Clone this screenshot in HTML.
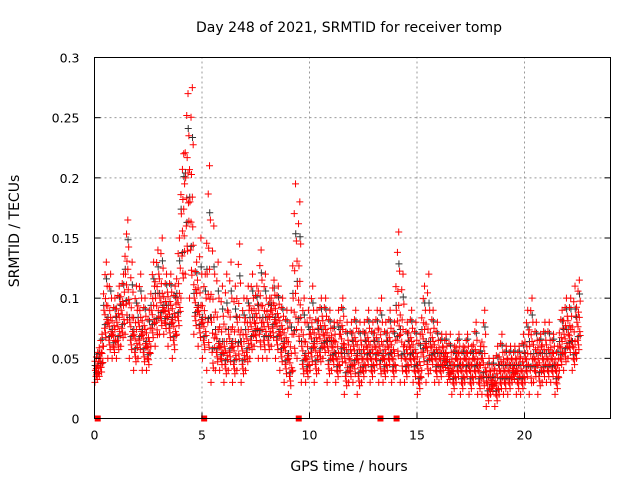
<!DOCTYPE html>
<html><head><meta charset="utf-8"><style>
body{margin:0;background:#fff;}
svg text{font-family:"DejaVu Sans",sans-serif;font-size:14px;fill:#000;}
svg text.tick{font-size:12.5px;}
</style></head><body>
<svg id="chart" width="640" height="480" xmlns="http://www.w3.org/2000/svg">
<rect width="640" height="480" fill="#fff"/>
<g id="grid"></g>
<g id="marks"></g>
<g id="axes"></g>
<text x="349" y="32" text-anchor="middle">Day 248 of 2021, SRMTID for receiver tomp</text>
<text x="349" y="471" text-anchor="middle">GPS time / hours</text>
<text x="19" y="231" text-anchor="middle" transform="rotate(-90 19 231)">SRMTID / TECUs</text>
</svg>
<script>
const xTicks=[0,5,10,15,20];
const yTicks=[0,0.05,0.1,0.15,0.2,0.25,0.3];
const yTickLabels=["0","0.05","0.1","0.15","0.2","0.25","0.3"];
const step=0.2;
const lo=[.03,.035,.06,.05,.05,.05,.06,.07,.05,.04,.05,.04,.04,.06,.06,.07,.07,.06,.05,.07,.10,.12,.10,.07,.06,.05,.04,.03,.04,.04,.03,.04,.03,.04,.03,.04,.05,.06,.05,.05,.05,.06,.05,.04,.03,.02,.04,.05,.03,.03,.04,.03,.04,.05,.03,.04,.03,.04,.02,.03,.03,.02,.03,.04,.03,.04,.03,.03,.04,.03,.04,.03,.03,.04,.03,.02,.04,.03,.04,.03,.03,.04,.03,.02,.03,.02,.03,.02,.03,.02,.02,.01,.02,.01,.02,.02,.02,.03,.02,.02,.03,.02,.03,.02,.03,.03,.03,.02,.04,.04,.05,.04,.05];
const mid=[.04,.05,.09,.08,.07,.08,.09,.12,.08,.07,.08,.07,.06,.09,.10,.10,.09,.09,.08,.10,.17,.20,.18,.10,.09,.08,.12,.08,.07,.06,.06,.07,.06,.08,.06,.07,.08,.08,.09,.08,.08,.09,.08,.07,.06,.05,.10,.11,.06,.05,.07,.06,.07,.07,.06,.06,.05,.07,.05,.05,.06,.05,.05,.06,.05,.06,.06,.05,.06,.05,.09,.07,.05,.06,.05,.04,.07,.06,.06,.05,.05,.05,.04,.04,.05,.04,.05,.04,.05,.04,.05,.03,.03,.03,.04,.04,.04,.04,.04,.04,.05,.06,.05,.05,.05,.05,.05,.04,.06,.07,.07,.06,.08];
const hi=[.055,.07,.13,.12,.10,.11,.12,.165,.13,.11,.12,.10,.09,.13,.14,.15,.12,.12,.11,.15,.22,.27,.275,.13,.15,.12,.21,.16,.13,.11,.12,.13,.11,.145,.10,.11,.12,.11,.14,.12,.10,.115,.11,.10,.09,.09,.195,.18,.10,.09,.11,.09,.10,.10,.09,.08,.09,.10,.08,.08,.09,.08,.08,.09,.08,.09,.10,.08,.09,.08,.155,.12,.08,.09,.08,.07,.11,.12,.09,.08,.07,.07,.07,.06,.07,.06,.07,.06,.08,.06,.09,.05,.05,.06,.07,.06,.06,.06,.06,.07,.09,.10,.08,.07,.08,.08,.07,.06,.09,.10,.10,.11,.115];
const gapTimes=[0.15,5.1,9.5,13.3,14.05];
const X0=94.5,X1=610.5,Y0=418.5,Y1=57.5,XMAX=24,YMAX=0.3;
const sx=v=>X0+(X1-X0)*v/XMAX;
const sy=v=>Y0-(Y0-Y1)*v/YMAX;
const NS="http://www.w3.org/2000/svg";
function mk(tag,attrs,parent){const e=document.createElementNS(NS,tag);for(const k in attrs)e.setAttribute(k,attrs[k]);parent.appendChild(e);return e;}
const grid=document.getElementById('grid'),axes=document.getElementById('axes'),marks=document.getElementById('marks');
xTicks.forEach(t=>{const x=sx(t);
 const g=mk('line',{x1:x,x2:x,y1:Y0,y2:Y1,stroke:'#999','stroke-dasharray':'2,3','stroke-width':1},grid);
 
 
 const l=mk('text',{x:x,y:Y0+21,'text-anchor':'middle','class':'tick'},axes);l.textContent=t;
 
 
 mk('line',{x1:x,x2:x,y1:Y0,y2:Y0-6,stroke:'#000'},axes);});
yTicks.forEach((t,i)=>{const y=sy(t);
 if(i>0&&i<yTicks.length-1){const g=mk('line',{x1:X0,x2:X1,y1:y,y2:y,stroke:'#999','stroke-dasharray':'2,3','stroke-width':1},grid);
 
 }
 const l=mk('text',{x:X0-15,y:y+5,'text-anchor':'end','class':'tick'},axes);l.textContent=yTickLabels[i];
 
 
 mk('line',{x1:X0,x2:X0+6,y1:y,y2:y,stroke:'#000'},axes);mk('line',{x1:X1,x2:X1-6,y1:y,y2:y,stroke:'#000'},axes);});
const fr=mk('rect',{x:X0,y:Y1,width:X1-X0,height:Y0-Y1,fill:'none',stroke:'#000','stroke-width':1},axes);


function plus(t,v,color){const x=sx(t),y=sy(v);
 const p=mk('path',{d:`M${x-3.5} ${y}h7M${x} ${y-3.5}v7`,stroke:color,'stroke-width':1,fill:'none'},marks);
 
 }
const fracs=[0,0.12,0.25,0.37,0.5,0.62,0.75,0.87,1];
const toffs=[0.02,0.13,0.07,0.17,0.04,0.11,0.19,0.09,0.15];
mid.forEach((m,i)=>{const t=i*step,l=lo[i],h=hi[i];
 plus(t+0.1,(l+m)/2+0.003,'#333');
 plus(t+0.16,(m+h)/2+0.006,'#333');
 plus(t+0.03,m+0.004,'#333');
 fracs.forEach((f,k)=>{
  const v=f<=0.5? l+(m-l)*f*2 : m+(h-m)*(f-0.5)*2;
  plus(t+toffs[k],v,'#f00');
  if(f>0.1&&f<0.7) plus(t+toffs[(k+4)%9],v+0.004,'#f00');
 });});
gapTimes.forEach(t=>{const r=mk('rect',{x:sx(t)-3,y:Y0-3,width:6,height:6,fill:'#f00'},marks);
 
 });
</script>
</body></html>
